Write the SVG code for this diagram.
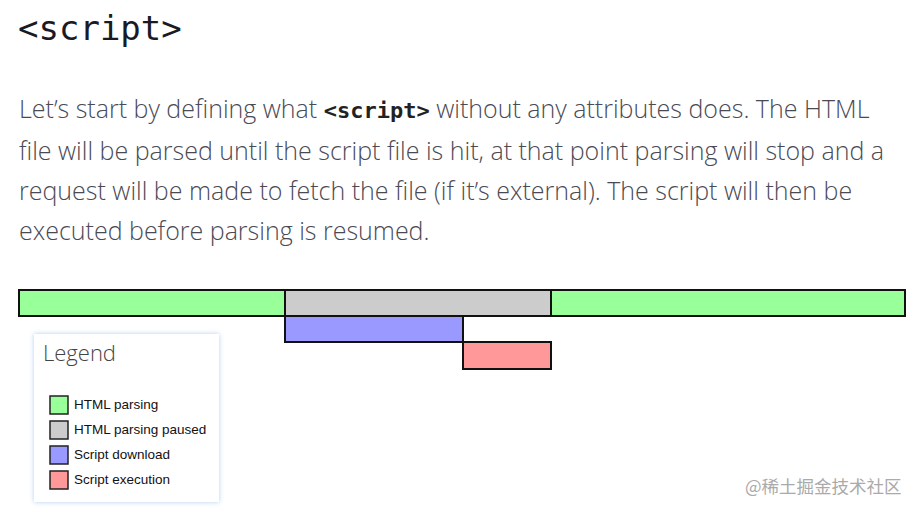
<svg xmlns="http://www.w3.org/2000/svg" width="924" height="513" viewBox="0 0 924 513">
<style>
.p{font-family:"Open Sans","Noto Sans",sans-serif;font-weight:300;font-size:25px;fill:#4a4a55}
.code{font-family:"DejaVu Sans Mono","Liberation Mono",monospace;font-weight:bold;fill:#222}
.bar{stroke:#111;stroke-width:2}
.lg{font-family:"Liberation Sans",Arial,sans-serif;font-size:13.5px;fill:#111}
.sw{stroke:#222;stroke-width:1.5}
</style>
<defs>
<filter id="sh" x="-10%" y="-10%" width="120%" height="120%">
<feGaussianBlur in="SourceAlpha" stdDeviation="2.5"/>
<feFlood flood-color="#7fb0f0" flood-opacity="0.6"/>
<feComposite operator="in" in2="SourceAlpha"/>
<feGaussianBlur stdDeviation="2.5"/>
<feMerge><feMergeNode/><feMergeNode in="SourceGraphic"/></feMerge>
</filter>
</defs>
<rect width="924" height="513" fill="#fff"/>
<text x="18" y="40" font-family="'DejaVu Sans Mono','Liberation Mono',monospace" font-size="34" fill="#1a1a24">&lt;script&gt;</text>
<text class="p" x="19" y="118">Let’s start by defining what <tspan class="code" font-size="22">&lt;script&gt;</tspan> without any attributes does. The HTML</text>
<text class="p" x="19" y="160">file will be parsed until the script file is hit, at that point parsing will stop and a</text>
<text class="p" x="19" y="200">request will be made to fetch the file (if it’s external). The script will then be</text>
<text class="p" x="19" y="240">executed before parsing is resumed.</text>
<g id="timeline">
<rect class="bar" x="19" y="290" width="266" height="26" fill="#9f9"/>
<rect class="bar" x="285" y="290" width="266" height="26" fill="#ccc"/>
<rect class="bar" x="551" y="290" width="354" height="26" fill="#9f9"/>
<rect class="bar" x="285" y="316" width="178" height="26" fill="#99f"/>
<rect class="bar" x="463" y="342" width="88" height="27" fill="#f99"/>
</g>
<g id="legend">
<rect x="34" y="334" width="185" height="168" fill="#fff" filter="url(#sh)"/>
<text x="43" y="361" font-family="'Open Sans','Noto Sans',sans-serif" font-weight="300" font-size="22" fill="#444">Legend</text>
<rect class="sw" x="50" y="396" width="18" height="18" fill="#9f9"/>
<text class="lg" x="74" y="409">HTML parsing</text>
<rect class="sw" x="50" y="421" width="18" height="18" fill="#ccc"/>
<text class="lg" x="74" y="434">HTML parsing paused</text>
<rect class="sw" x="50" y="446" width="18" height="18" fill="#99f"/>
<text class="lg" x="74" y="459">Script download</text>
<rect class="sw" x="50" y="471" width="18" height="18" fill="#f99"/>
<text class="lg" x="74" y="484">Script execution</text>
</g>
<text x="745" y="493" font-family="'Noto Sans CJK SC',sans-serif" font-size="17.5" fill="#aaa">@稀土掘金技术社区</text>
</svg>
